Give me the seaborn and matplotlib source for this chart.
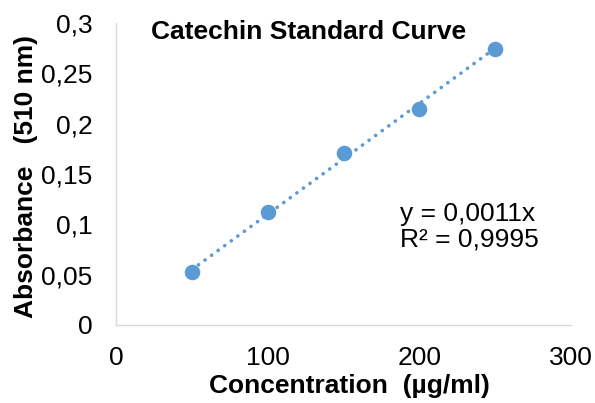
import numpy as np
import pandas as pd
import matplotlib
matplotlib.use('Agg')
import matplotlib.pyplot as plt
from matplotlib.ticker import FuncFormatter
import seaborn as sns

# data
conc = [50, 100, 150, 200, 250]
absorb = [0.053, 0.112, 0.171, 0.215, 0.274]
slope = 0.0011
r2 = 0.9995
trend_x = [50, 250]

sns.set_theme(style='white')
plt.rcParams['font.family'] = ['Liberation Sans', 'DejaVu Sans']
plt.rcParams['text.color'] = 'black'
plt.rcParams['axes.labelcolor'] = 'black'

blue = '#5B9BD5'
axis_grey = '#D9D9D9'

df = pd.DataFrame({'conc': conc, 'abs': absorb})
df_trend = pd.DataFrame({'x': trend_x, 'y': [slope * v for v in trend_x]})

fig = plt.figure(figsize=(5.95, 4.03), dpi=100)
ax = fig.add_axes([116 / 595, 1 - 325 / 403, 455 / 595, 302 / 403])

# trendline (dotted, through origin)
sns.lineplot(data=df_trend, x='x', y='y', ax=ax, color=blue, linewidth=2.6,
             dashes=False)
ax.lines[0].set_linestyle((0, (0.05, 2.2)))
ax.lines[0].set_dash_capstyle('round')

sns.scatterplot(data=df, x='conc', y='abs', ax=ax, color=blue, s=125,
                edgecolor=blue, linewidth=0, zorder=3)

ax.set_xlim(0, 300)
ax.set_ylim(0, 0.3)
ax.set_xticks([0, 100, 200, 300])
ax.set_yticks(np.arange(0, 0.31, 0.05))
comma = FuncFormatter(lambda v, p: f'{v:g}'.replace('.', ','))
ax.xaxis.set_major_formatter(comma)
ax.yaxis.set_major_formatter(comma)
ax.tick_params(axis='both', length=0, labelsize=19, colors='black')
ax.tick_params(axis='x', pad=15)
ax.tick_params(axis='y', pad=17)

for side in ['top', 'right']:
    ax.spines[side].set_visible(False)
for side in ['left', 'bottom']:
    ax.spines[side].set_color(axis_grey)
    ax.spines[side].set_linewidth(1.0)

ax.set_xlabel('Concentration  (µg/ml)', fontsize=19, fontweight='bold')
ax.set_ylabel('Absorbance   (510 nm)', fontsize=19, fontweight='bold')
ax.xaxis.set_label_coords(0.512, -0.163)
ax.yaxis.set_label_coords(-0.171, 0.492)

ax.text(0.423, 0.97, 'Catechin Standard Curve', transform=ax.transAxes,
        ha='center', va='center', fontsize=19, fontweight='bold')

eq = 'y = ' + f'{slope:g}'.replace('.', ',') + 'x\nR² = ' + f'{r2:g}'.replace('.', ',')
ax.text(0.624, 0.326, eq, transform=ax.transAxes, ha='left', va='center',
        fontsize=19, linespacing=1.1)

fig.savefig('out.png', dpi=100)
